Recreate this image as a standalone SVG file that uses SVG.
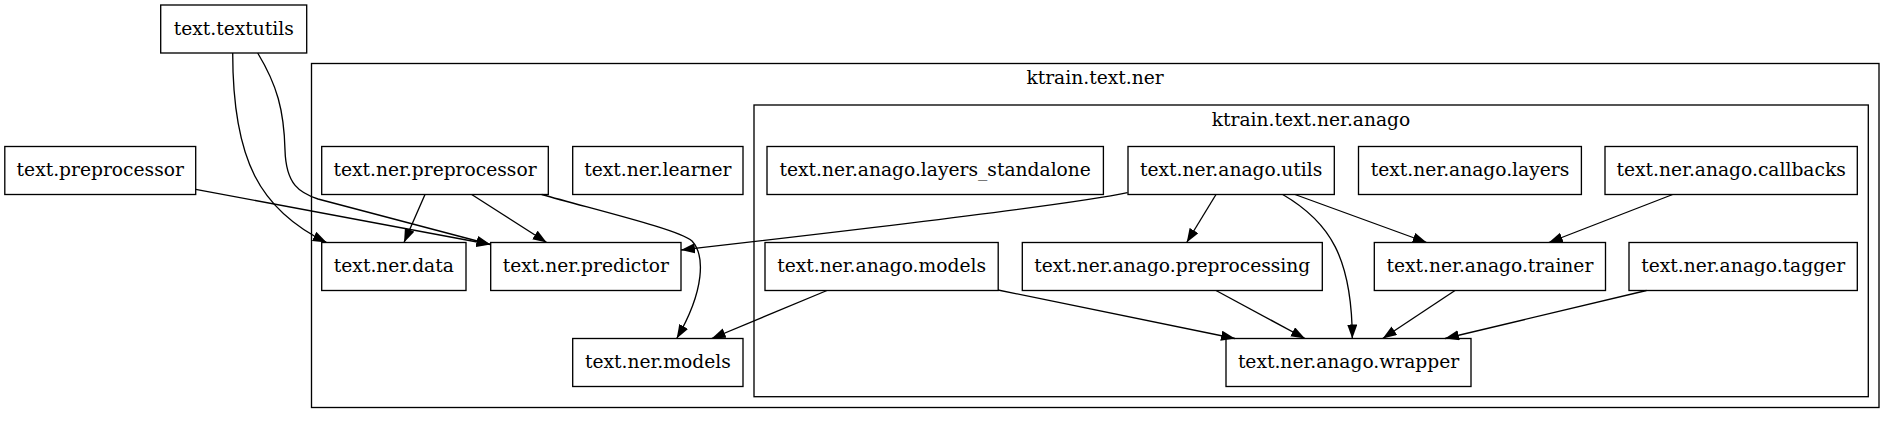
<svg xmlns="http://www.w3.org/2000/svg" width="1895" height="424" viewBox="0 0 1895 424">
<style>
.n rect{fill:none;stroke:#000;stroke-width:1.33}
.c rect{fill:none;stroke:#000;stroke-width:1.33}
text{font-family:"DejaVu Serif",serif;font-size:18.67px;fill:#000;text-anchor:middle}
.e path{fill:none;stroke:#000;stroke-width:1.33;marker-end:url(#ah)}
</style>
<defs>
<marker id="ah" markerWidth="15" markerHeight="11" refX="14" refY="5.1" orient="auto" markerUnits="userSpaceOnUse">
<path d="M0,0 L14,5.1 L0,10.2 z" fill="#000"/>
</marker>
</defs>
<rect x="0" y="0" width="1895" height="424" fill="#fff"/>
<g id="cluster_ner" class="c">
<rect x="311.5" y="63.5" width="1567.5" height="344"/>
<text x="1095" y="84">ktrain.text.ner</text>
</g>
<g id="cluster_anago" class="c">
<rect x="754" y="105" width="1114.3" height="291.7"/>
<text x="1311" y="125.5">ktrain.text.ner.anago</text>
</g>
<g id="text.textutils" class="n"><rect x="160.7" y="5" width="146" height="48"/><text x="233.7" y="34.5">text.textutils</text></g>
<g id="text.preprocessor" class="n"><rect x="4.8" y="146.5" width="190.9" height="48"/><text x="100.25" y="176">text.preprocessor</text></g>
<g id="text.ner.preprocessor" class="n"><rect x="321.7" y="146.5" width="226.6" height="48"/><text x="435" y="176">text.ner.preprocessor</text></g>
<g id="text.ner.learner" class="n"><rect x="572.7" y="146.5" width="170.3" height="48"/><text x="657.85" y="176">text.ner.learner</text></g>
<g id="text.ner.anago.layers_standalone" class="n"><rect x="767" y="146.5" width="336.4" height="48"/><text x="935.2" y="176">text.ner.anago.layers_standalone</text></g>
<g id="text.ner.anago.utils" class="n"><rect x="1128" y="146.5" width="206.3" height="48"/><text x="1231.15" y="176">text.ner.anago.utils</text></g>
<g id="text.ner.anago.layers" class="n"><rect x="1358.5" y="146.5" width="222.9" height="48"/><text x="1470" y="176">text.ner.anago.layers</text></g>
<g id="text.ner.anago.callbacks" class="n"><rect x="1605" y="146.5" width="252.3" height="48"/><text x="1731.15" y="176">text.ner.anago.callbacks</text></g>
<g id="text.ner.data" class="n"><rect x="321.7" y="242.5" width="144.3" height="48"/><text x="393.85" y="272">text.ner.data</text></g>
<g id="text.ner.predictor" class="n"><rect x="490.7" y="242.5" width="190.3" height="48"/><text x="585.85" y="272">text.ner.predictor</text></g>
<g id="text.ner.anago.models" class="n"><rect x="765" y="242.5" width="233.2" height="48"/><text x="881.6" y="272">text.ner.anago.models</text></g>
<g id="text.ner.anago.preprocessing" class="n"><rect x="1022.3" y="242.5" width="300" height="48"/><text x="1172.3" y="272">text.ner.anago.preprocessing</text></g>
<g id="text.ner.anago.trainer" class="n"><rect x="1374.3" y="242.5" width="231.2" height="48"/><text x="1489.9" y="272">text.ner.anago.trainer</text></g>
<g id="text.ner.anago.tagger" class="n"><rect x="1629" y="242.5" width="228.3" height="48"/><text x="1743.15" y="272">text.ner.anago.tagger</text></g>
<g id="text.ner.models" class="n"><rect x="572.7" y="338.5" width="170.3" height="48"/><text x="657.85" y="368">text.ner.models</text></g>
<g id="text.ner.anago.wrapper" class="n"><rect x="1226" y="338.5" width="245" height="48"/><text x="1348.5" y="368">text.ner.anago.wrapper</text></g>
<g id="edges" class="e">
<path d="M232.7,53 C232.7,160 260,210 326.7,242.5"/>
<path d="M257.7,53 C277,85 284,110 285,150 C286,185 300,193 318,199 L490.5,244.5"/>
<path d="M195.7,189.3 L490.5,244.5"/>
<path d="M425,194.5 L404,242.5"/>
<path d="M471.7,194.5 L546.7,242.5"/>
<path d="M541.7,194.5 C600,211 680,230 692,241 C705,255 705,290 676.7,338.5"/>
<path d="M1127.5,192.7 C1080,203 900,225 681,250"/>
<path d="M1216,194.5 L1186.7,242.5"/>
<path d="M1282.7,194.5 C1330,222 1352,258 1352.3,338.5"/>
<path d="M1295,194.5 L1426.7,242.5"/>
<path d="M1672.7,194.5 L1548.8,242.5"/>
<path d="M827,290.5 L711.7,338.5"/>
<path d="M998,290 L1235,338.5"/>
<path d="M1216,290.5 L1305,338.5"/>
<path d="M1455,290.5 L1382.7,338.5"/>
<path d="M1646.5,290.5 L1445,338.5"/>
</g>
</svg>
